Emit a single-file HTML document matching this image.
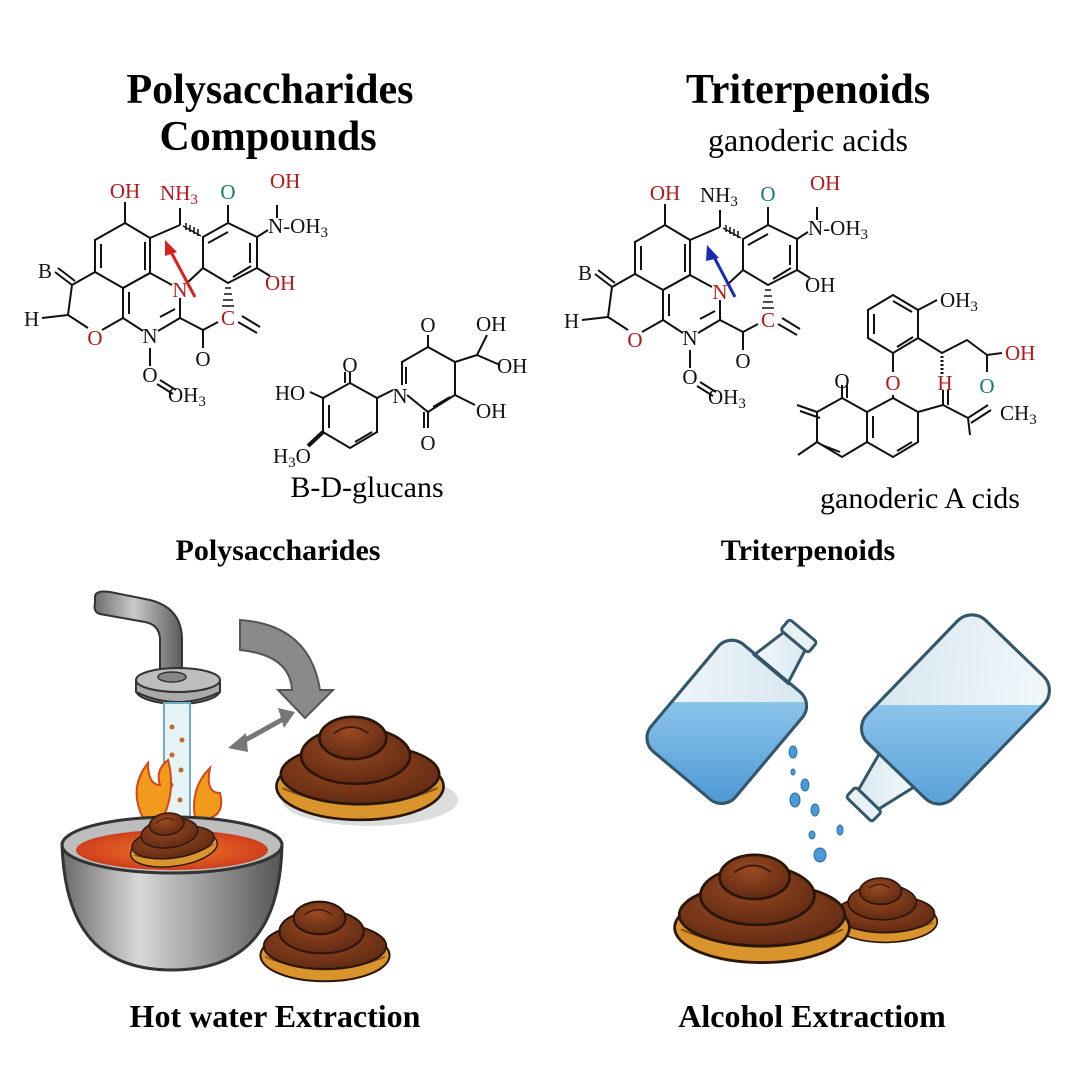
<!DOCTYPE html>
<html><head><meta charset="utf-8"><style>
html,body{margin:0;padding:0;background:#fff;}
svg{display:block}
text{font-family:"Liberation Serif",serif;}
</style></head><body>
<svg width="1080" height="1080" viewBox="0 0 1080 1080" xmlns="http://www.w3.org/2000/svg">
<defs>
<linearGradient id="pipe" x1="0" y1="0" x2="1" y2="0"><stop offset="0" stop-color="#6d6d6d"/><stop offset=".45" stop-color="#c9c9c9"/><stop offset="1" stop-color="#5a5a5a"/></linearGradient>
<linearGradient id="pot" x1="0" y1="0" x2="1" y2="0"><stop offset="0" stop-color="#6a6a6a"/><stop offset=".35" stop-color="#d8d8d8"/><stop offset="1" stop-color="#555"/></linearGradient>
<radialGradient id="soup" cx=".5" cy=".5" r=".6"><stop offset="0" stop-color="#f07a2a"/><stop offset="1" stop-color="#c8331a"/></radialGradient>
<radialGradient id="cap" cx=".45" cy=".35" r=".7"><stop offset="0" stop-color="#9a4a22"/><stop offset="1" stop-color="#5e2812"/></radialGradient>
<linearGradient id="glass" x1="0" y1="0" x2="1" y2="1"><stop offset="0" stop-color="#f2f8fb"/><stop offset="1" stop-color="#d6e6ef"/></linearGradient>
<linearGradient id="water" x1="0" y1="0" x2="0" y2="1"><stop offset="0" stop-color="#8cc4ea"/><stop offset="1" stop-color="#4e9ad6"/></linearGradient>
<g id="mush">
 <ellipse cx="0" cy="30" rx="95" ry="38" fill="#d9942e" stroke="#2a1608" stroke-width="3"/>
 <path d="M-88 32 Q0 70 88 32" stroke="#7a4a14" stroke-width="2" fill="none"/>
 <ellipse cx="0" cy="16" rx="90" ry="34" fill="url(#cap)" stroke="#2a1608" stroke-width="3"/>
 <ellipse cx="-5" cy="-5" rx="62" ry="32" fill="url(#cap)" stroke="#2a1608" stroke-width="3"/>
 <ellipse cx="-8" cy="-25" rx="38" ry="24" fill="url(#cap)" stroke="#2a1608" stroke-width="3"/>
 <path d="M-30 -30 q20 -15 40 0" stroke="#3a1a08" stroke-width="2" fill="none"/>
</g>
<g id="skel" stroke="#111" stroke-width="2" fill="none">
 <polygon points="125,223 150,238 150,273 123,288 95,272 95,240"/>
 <path d="M95,272 L72,285 L68,315 L88,328"/>
 <path d="M102,330 L123,318 L123,288 M123,288 L150,273 L172,285 M180,298 L180,318 L158,331 M143,331 L123,318"/>
 <polygon points="203,237 228,223 257,237 257,268 228,283 203,268"/>
 <path d="M101,244 L101,268 M145,242 L145,270 M129,292 L129,314 M208,243 L228,232 M250,243 L250,263 M233,277 L251,266 M175,309 L160,317"/>
 <path d="M150,238 L180,225 M180,225 L180,208 M125,223 L125,202 M228,223 L228,205 M257,237 L268,230 M277,218 L277,205 M257,268 L270,276 M203,268 L187,283 M180,318 L203,330 L218,322 M238,322 L257,333 M242,316 L260,327 M203,330 L203,348 M72,285 L55,272 M75,281 L58,268 M68,315 L42,318 M150,348 L150,366 M157,384 L173,394 M160,380 L176,390"/>
 <path d="M183,226 L201,236 M186,223 L186,230 M190,225 L190,232 M194,227 L194,234 M198,229 L198,236" stroke-width="1.5"/>
 <path d="M225,288 L231,288 M224,294 L232,294 M223,300 L233,300 M222,306 L234,306" stroke-width="1.5"/>
</g>
</defs>

<text x="270" y="103" font-size="42" font-weight="bold" text-anchor="middle">Polysaccharides</text>
<text x="268" y="150" font-size="42" font-weight="bold" text-anchor="middle">Compounds</text>
<text x="808" y="103" font-size="42" font-weight="bold" text-anchor="middle">Triterpenoids</text>
<text x="808" y="151" font-size="32" text-anchor="middle">ganoderic acids</text>

<use href="#skel"/>
<g font-size="21">
 <text x="125" y="198" fill="#b3191b" text-anchor="middle">OH</text>
 <text x="160" y="200" fill="#b3191b">NH<tspan font-size="15" dy="4">3</tspan></text>
 <text x="228" y="199" fill="#118066" text-anchor="middle">O</text>
 <text x="270" y="188" fill="#b3191b">OH</text>
 <text x="268" y="233" fill="#111">N-OH<tspan font-size="15" dy="4">3</tspan></text>
 <text x="265" y="290" fill="#b3191b">OH</text>
 <text x="38" y="278" fill="#111">B</text>
 <text x="24" y="326" fill="#111">H</text>
 <text x="95" y="345" fill="#b3191b" text-anchor="middle">O</text>
 <text x="180" y="297" fill="#b3191b" text-anchor="middle">N</text>
 <text x="150" y="343" fill="#111" text-anchor="middle">N</text>
 <text x="228" y="325" fill="#b3191b" text-anchor="middle">C</text>
 <text x="203" y="366" fill="#111" text-anchor="middle">O</text>
 <text x="150" y="382" fill="#111" text-anchor="middle">O</text>
 <text x="168" y="402" fill="#111">OH<tspan font-size="15" dy="4">3</tspan></text>
</g>
<path d="M195,297 L170,250" stroke="#d6221c" stroke-width="3"/><polygon points="165,240 177,252 165,256" fill="#d6221c"/>
<g stroke="#111" stroke-width="2" fill="none">
 <polygon points="350,383 377,398 377,432 350,448 323,432 323,398"/>
 <path d="M329,405 L329,428 M355,442 L372,432 M350,383 L350,372 M345,383 L345,372 M323,398 L310,392 M377,398 L393,390 M407,395 L428,412 L455,395 L455,362 L428,347 L402,362 L402,385 M406,367 L406,384 M433,407 L450,397 M455,362 L477,355 L487,335 M477,355 L500,365 M455,395 L475,405 M428,412 L428,428 M424,412 L424,428 M428,347 L428,335"/>
 <path d="M323,432 L308,446" stroke-width="4"/>
</g>
<g font-size="21" fill="#111">
 <text x="290" y="400" text-anchor="middle">HO</text>
 <text x="350" y="372" text-anchor="middle">O</text>
 <text x="273" y="463">H<tspan font-size="15" dy="4">3</tspan><tspan dy="-4">O</tspan></text>
 <text x="400" y="403" text-anchor="middle">N</text>
 <text x="428" y="332" text-anchor="middle">O</text>
 <text x="476" y="331">OH</text>
 <text x="497" y="373">OH</text>
 <text x="476" y="418">OH</text>
 <text x="428" y="450" text-anchor="middle">O</text>
</g>
<text x="367" y="497" font-size="30" text-anchor="middle">B-D-glucans</text>

<use href="#skel" transform="translate(540,2)"/>
<g font-size="21">
 <text x="665" y="200" fill="#b3191b" text-anchor="middle">OH</text>
 <text x="700" y="202" fill="#111">NH<tspan font-size="15" dy="4">3</tspan></text>
 <text x="768" y="201" fill="#118066" text-anchor="middle">O</text>
 <text x="810" y="190" fill="#b3191b">OH</text>
 <text x="808" y="235" fill="#111">N-OH<tspan font-size="15" dy="4">3</tspan></text>
 <text x="805" y="292" fill="#111">OH</text>
 <text x="578" y="280" fill="#111">B</text>
 <text x="564" y="328" fill="#111">H</text>
 <text x="635" y="347" fill="#b3191b" text-anchor="middle">O</text>
 <text x="720" y="299" fill="#b3191b" text-anchor="middle">N</text>
 <text x="690" y="345" fill="#111" text-anchor="middle">N</text>
 <text x="768" y="327" fill="#b3191b" text-anchor="middle">C</text>
 <text x="743" y="368" fill="#111" text-anchor="middle">O</text>
 <text x="690" y="384" fill="#111" text-anchor="middle">O</text>
 <text x="708" y="404" fill="#111">OH<tspan font-size="15" dy="4">3</tspan></text>
</g>
<path d="M735,297 L713,255" stroke="#1a2cb0" stroke-width="3"/><polygon points="707,245 719,258 706,261" fill="#1a2cb0"/>
<g stroke="#111" stroke-width="2" fill="none">
 <polygon points="893,295 918,310 918,338 893,353 868,338 868,310"/>
 <path d="M874,314 L874,334 M893,301 L912,312 M897,347 L913,337"/>
 <path d="M918,310 L937,300 M918,338 L942,353 L967,340 L987,355 L1002,353 M987,355 L987,372 M893,353 L893,372"/>
 <path d="M942,356 L942,375" stroke-dasharray="2 2" stroke-width="3"/>
 <polygon points="893,398 918,412 918,442 893,457 867,442 867,412"/>
 <polygon points="842,398 867,412 867,442 842,457 817,442 817,412"/>
 <path d="M893,398 L893,395 M842,398 L842,385 M847,398 L847,385 M918,412 L943,405 L943,390 M948,405 L948,390 M943,405 L968,418 L988,405 M971,423 L991,410 M968,418 L970,435 M817,412 L797,405 M820,418 L800,411 M817,442 L798,455 M873,416 L873,438 M897,451 L912,442 M822,445 L840,452"/>
</g>
<g font-size="21">
 <text x="940" y="307" fill="#111">OH<tspan font-size="15" dy="4">3</tspan></text>
 <text x="893" y="390" fill="#b3191b" text-anchor="middle">O</text>
 <text x="945" y="390" fill="#b3191b" text-anchor="middle">H</text>
 <text x="1005" y="360" fill="#b3191b">OH</text>
 <text x="987" y="393" fill="#118066" text-anchor="middle">O</text>
 <text x="842" y="388" fill="#111" text-anchor="middle">O</text>
 <text x="1000" y="420" fill="#111">CH<tspan font-size="15" dy="4">3</tspan></text>
</g>
<text x="920" y="508" font-size="30" text-anchor="middle">ganoderic A cids</text>

<text x="278" y="560" font-size="30" font-weight="bold" text-anchor="middle">Polysaccharides</text>
<text x="808" y="560" font-size="30" font-weight="bold" text-anchor="middle">Triterpenoids</text>

<ellipse cx="370" cy="800" rx="88" ry="26" fill="#ddd"/>
<path d="M95,597 Q95,590 110,592 L150,600 Q182,608 182,640 L182,680 L160,680 L160,640 Q160,625 145,622 L100,614 Q93,612 95,603 Z" fill="url(#pipe)" stroke="#333" stroke-width="2"/>
<ellipse cx="178" cy="690" rx="42" ry="14" fill="#777" stroke="#333" stroke-width="2"/>
<path d="M136,680 L136,692 Q178,712 220,692 L220,680" fill="#aaa" stroke="#333" stroke-width="2"/>
<ellipse cx="178" cy="680" rx="42" ry="12" fill="#bdbdbd" stroke="#333" stroke-width="2"/>
<ellipse cx="172" cy="677" rx="14" ry="5" fill="#888" stroke="#333" stroke-width="1.5"/>
<rect x="164" y="703" width="26" height="130" fill="#e6f3f5" stroke="#6aaec0" stroke-width="2"/>
<g fill="#c06a30"><circle cx="172" cy="727" r="2.5"/><circle cx="182" cy="740" r="2.5"/><circle cx="172" cy="755" r="2.5"/><circle cx="181" cy="770" r="2.5"/><circle cx="171" cy="785" r="2.5"/><circle cx="180" cy="800" r="2.5"/></g>
<path d="M240,620 Q310,625 320,690 L333,690 L305,718 L278,690 L292,690 Q290,655 240,650 Z" fill="#8a8a8a" stroke="#555" stroke-width="2"/>
<path d="M240,743 L285,718" stroke="#777" stroke-width="5"/><polygon points="228,748 246,733 248,752" fill="#777"/><polygon points="295,712 278,708 284,728" fill="#777"/>
<path d="M143,818 q-15,-30 5,-55 q0,22 12,22 q-5,-15 8,-25 q8,30 -5,58 Z" fill="#f29a1c" stroke="#d4461a" stroke-width="2"/>
<path d="M195,818 q-5,-30 15,-50 q-5,25 10,25 q5,20 -10,25 Z" fill="#f29a1c" stroke="#d4461a" stroke-width="2"/>
<path d="M62,845 C65,930 100,970 172,970 C245,970 280,930 282,845 Z" fill="url(#pot)" stroke="#333" stroke-width="3"/>
<ellipse cx="172" cy="845" rx="110" ry="28" fill="#bdbdbd" stroke="#333" stroke-width="3"/>
<ellipse cx="172" cy="850" rx="96" ry="20" fill="url(#soup)"/>
<g transform="translate(172,835) rotate(-8) scale(0.46)"><use href="#mush"/></g>
<g transform="translate(360,760) scale(0.88)"><use href="#mush"/></g>
<g transform="translate(325,935) scale(0.68)"><use href="#mush"/></g>
<text x="275" y="1027" font-size="32" font-weight="bold" text-anchor="middle">Hot water Extraction</text>

<clipPath id="cb1"><rect transform="translate(730,718) rotate(-50)" x="-75" y="-55" width="140" height="110" rx="18"/></clipPath>
<clipPath id="cb2"><rect transform="translate(952,713) rotate(134)" x="-90" y="-60" width="170" height="120" rx="20"/></clipPath>
<g transform="translate(730,718) rotate(-50)">
 <rect x="-75" y="-55" width="140" height="110" rx="18" fill="url(#glass)" stroke="#34566a" stroke-width="3"/>
 <path d="M64 -22 L100 -14 L100 14 L64 22 Z" fill="url(#glass)" stroke="#34566a" stroke-width="3"/>
 <rect x="100" y="-18" width="14" height="36" rx="3" fill="#e8f1f6" stroke="#34566a" stroke-width="3"/>
</g>
<rect x="640" y="702" width="200" height="100" fill="url(#water)" clip-path="url(#cb1)"/>
<g transform="translate(730,718) rotate(-50)"><rect x="-75" y="-55" width="140" height="110" rx="18" fill="none" stroke="#34566a" stroke-width="3"/></g>
<g transform="translate(952,713) rotate(134)">
 <rect x="-90" y="-60" width="170" height="120" rx="20" fill="url(#glass)" stroke="#34566a" stroke-width="3"/>
 <path d="M80 -24 L120 -14 L120 14 L80 24 Z" fill="url(#glass)" stroke="#34566a" stroke-width="3"/>
 <rect x="120" y="-18" width="14" height="36" rx="3" fill="#e8f1f6" stroke="#34566a" stroke-width="3"/>
</g>
<rect x="860" y="705" width="200" height="120" fill="url(#water)" clip-path="url(#cb2)"/>
<g transform="translate(952,713) rotate(134)"><rect x="-90" y="-60" width="170" height="120" rx="20" fill="none" stroke="#34566a" stroke-width="3"/></g>
<g fill="#4a9ad8" stroke="#2a6ea6" stroke-width="1">
 <ellipse cx="793" cy="752" rx="4" ry="6"/><ellipse cx="793" cy="772" rx="2" ry="3"/><ellipse cx="805" cy="785" rx="4" ry="6"/>
 <ellipse cx="795" cy="800" rx="5" ry="7"/><ellipse cx="815" cy="810" rx="4" ry="6"/><ellipse cx="840" cy="830" rx="3" ry="5"/><ellipse cx="812" cy="835" rx="3" ry="4"/><ellipse cx="820" cy="855" rx="6" ry="7"/>
</g>
<g transform="translate(885,905) scale(0.55)"><use href="#mush"/></g>
<g transform="translate(762,900) scale(0.92)"><use href="#mush"/></g>
<text x="812" y="1027" font-size="32" font-weight="bold" text-anchor="middle">Alcohol Extractiom</text>
</svg>
</body></html>
